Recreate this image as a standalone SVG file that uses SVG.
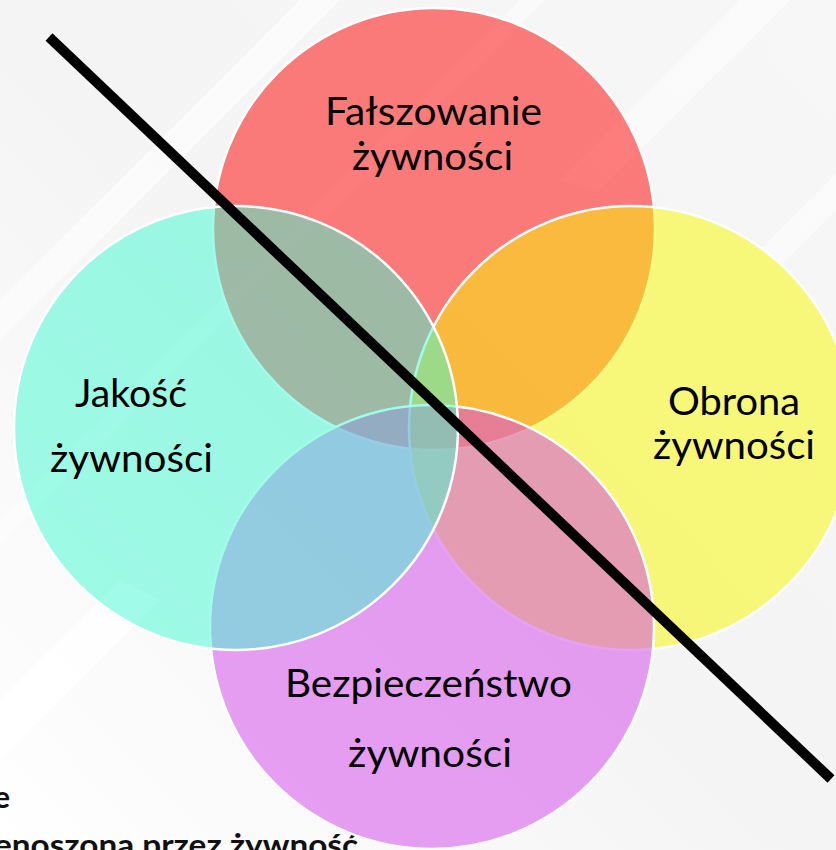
<svg xmlns="http://www.w3.org/2000/svg" width="836" height="850" viewBox="0 0 836 850">
  <style>
    .c { stroke: #ffffff; stroke-width: 2.5; fill-opacity: 0.5; }
    .lbl { font-family: Lato, "Liberation Sans", sans-serif; font-size: 38px; fill: #000000; text-anchor: middle; }
    .bg { font-family: Lato, "Liberation Sans", sans-serif; font-size: 30px; font-weight: bold; fill: #111111; }
  </style>
  <defs>
    <linearGradient id="bgGrad" x1="0" y1="1" x2="1" y2="0">
      <stop offset="0" stop-color="#ffffff"/>
      <stop offset="0.25" stop-color="#f8f9f8"/>
      <stop offset="0.5" stop-color="#f3f4f3"/>
      <stop offset="1" stop-color="#f6f7f6"/>
    </linearGradient>
  </defs>
  <g id="background">
    <rect x="0" y="0" width="836" height="850" fill="url(#bgGrad)"/>
    <path d="M0 300 L300 0 L340 0 L0 340 Z" fill="#ffffff" opacity="0.55"/>
    <path d="M0 520 L520 0 L545 0 L0 545 Z" fill="#ffffff" opacity="0.45"/>
    <path d="M560 180 L740 0 L790 0 L600 190 Z" fill="#ffffff" opacity="0.45"/>
    <path d="M760 250 L836 174 L836 210 L780 266 Z" fill="#ffffff" opacity="0.45"/>
    <path d="M0 700 L120 580 L160 600 L0 760 Z" fill="#ffffff" opacity="0.8"/>
  </g>
  <g id="hidden-text">
    <text class="bg" x="-6" y="808">e</text>
    <text class="bg" x="-6" y="856" textLength="364" lengthAdjust="spacingAndGlyphs">enoszona przez żywność</text>
  </g>
  <g id="falszowanie">
    <circle class="c" cx="434" cy="229" r="221" fill="#ff0000"/>
  </g>
  <g id="obrona">
    <circle class="c" cx="631" cy="428" r="222" fill="#fafa00"/>
  </g>
  <g id="bezpieczenstwo">
    <circle class="c" cx="432" cy="627" r="222" fill="#d141eb"/>
  </g>
  <g id="jakosc">
    <circle class="c" cx="236" cy="428" r="222" fill="#41f9d1"/>
  </g>
  <g id="labels">
    <text class="lbl" x="433.5" y="125" textLength="217" lengthAdjust="spacingAndGlyphs">Fałszowanie</text>
    <text class="lbl" x="432.5" y="170" textLength="161" lengthAdjust="spacingAndGlyphs">żywności</text>
    <text class="lbl" x="131" y="407" textLength="112" lengthAdjust="spacingAndGlyphs">Jakość</text>
    <text class="lbl" x="131.5" y="472" textLength="163" lengthAdjust="spacingAndGlyphs">żywności</text>
    <text class="lbl" x="734" y="415" textLength="132" lengthAdjust="spacingAndGlyphs">Obrona</text>
    <text class="lbl" x="734" y="459" textLength="162" lengthAdjust="spacingAndGlyphs">żywności</text>
    <text class="lbl" x="428.5" y="697" textLength="287" lengthAdjust="spacingAndGlyphs">Bezpieczeństwo</text>
    <text class="lbl" x="430" y="767" textLength="164" lengthAdjust="spacingAndGlyphs">żywności</text>
  </g>
  <g id="connectors">
    <line x1="49" y1="37" x2="831" y2="779" stroke="#000000" stroke-width="10"/>
  </g>
</svg>
